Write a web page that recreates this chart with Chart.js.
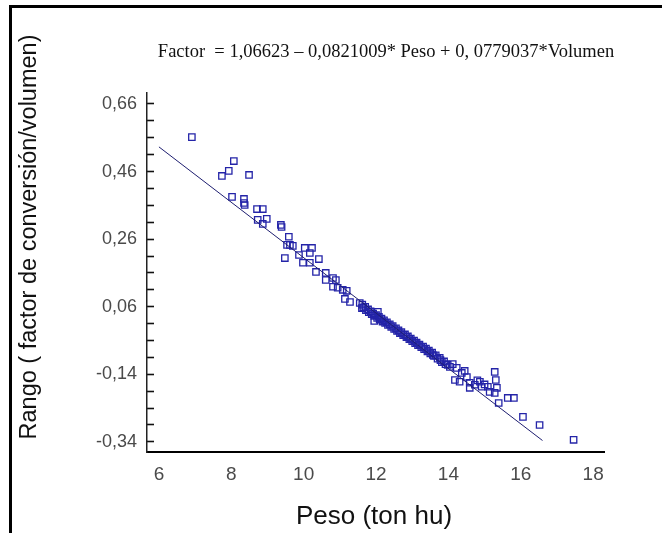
<!DOCTYPE html>
<html>
<head>
<meta charset="utf-8">
<script src="https://cdn.jsdelivr.net/npm/chart.js@4"></script>
<style>
html,body{margin:0;padding:0;background:#fff;}
#wrap{position:relative;width:662px;height:533px;}
canvas{display:block;}
</style>
</head>
<body>
<div id="wrap"><canvas id="c" width="662" height="533"></canvas></div>
<script>
// ---- data ----
const pesoValues = [
  6.91, 7.74, 7.93, 8.07, 8.49, 8.02, 8.35, 8.35, 8.37, 8.71, 8.87, 8.73, 8.98, 8.87, 9.37, 9.39,
  9.59, 9.54, 9.62, 9.70, 9.48, 9.87, 10.03, 10.23, 10.17, 9.98, 10.17, 10.42, 10.34, 10.61, 10.61,
  10.81, 10.89, 10.81, 10.94, 11.08, 11.19, 11.14, 11.28, 11.55, 11.61,
  11.62, 11.65, 11.70, 11.72, 11.78, 11.80, 11.85, 11.88, 11.92, 11.95, 12.00, 12.03, 12.08, 12.10,
  12.15, 12.18, 12.22, 12.25, 12.30, 12.33, 12.38, 12.42, 12.46, 12.50, 12.55, 12.58, 12.62, 12.66,
  12.70, 12.75, 12.80, 12.84, 12.88, 12.92, 12.96, 13.00, 13.05, 13.08, 13.12, 13.16, 13.20, 13.25,
  13.30, 13.33, 13.38, 13.42, 13.46, 13.50, 13.55, 13.60, 13.65, 13.70, 13.78, 13.82, 13.88, 13.92,
  13.98, 12.05, 11.95,
  13.57, 13.76, 14.04, 14.12, 14.23, 14.18, 14.31, 14.37, 14.45, 14.51, 14.59, 14.59, 14.73, 14.80,
  14.87, 14.92, 15.00, 15.09, 15.14, 15.28, 15.31, 15.34, 15.28, 15.39, 15.64, 15.81, 16.06, 16.52, 17.46
];
const rangoValues = [
  0.562, 0.447, 0.462, 0.491, 0.450, 0.385, 0.379, 0.367, 0.361, 0.349, 0.349, 0.317, 0.320, 0.305, 0.302, 0.296,
  0.267, 0.243, 0.243, 0.240, 0.204, 0.213, 0.234, 0.234, 0.219, 0.190, 0.190, 0.201, 0.163, 0.160, 0.139,
  0.145, 0.139, 0.119, 0.116, 0.110, 0.107, 0.083, 0.074, 0.071, 0.056,
  0.066, 0.058, 0.060, 0.050, 0.052, 0.044, 0.046, 0.038, 0.040, 0.033, 0.035, 0.027, 0.030, 0.022,
  0.025, 0.016, 0.020, 0.012, 0.014, 0.006, 0.008, 0.000, 0.003, -0.006, -0.004, -0.012, -0.010, -0.018,
  -0.015, -0.024, -0.022, -0.030, -0.028, -0.036, -0.034, -0.042, -0.040, -0.048, -0.046, -0.054, -0.052, -0.060,
  -0.058, -0.066, -0.064, -0.072, -0.070, -0.078, -0.076, -0.086, -0.084, -0.094, -0.098, -0.104, -0.102, -0.110,
  -0.112, 0.045, 0.018,
  -0.083, -0.091, -0.118, -0.110, -0.121, -0.157, -0.162, -0.136, -0.130, -0.148, -0.165, -0.180, -0.171, -0.158,
  -0.162, -0.177, -0.170, -0.177, -0.192, -0.133, -0.157, -0.180, -0.195, -0.225, -0.210, -0.210, -0.266, -0.290, -0.334
];
const fitLineX = [6.0, 16.6];
const fitLineY = [0.533, -0.336];
const yTickValues = [0.66, 0.46, 0.26, 0.06, -0.14, -0.34];
const yTickLabels = ['0,66', '0,46', '0,26', '0,06', '-0,14', '-0,34'];
const yMinorTickValues = [0.66, 0.61, 0.56, 0.51, 0.46, 0.41, 0.36, 0.31, 0.26, 0.21, 0.16, 0.11, 0.06,
  0.01, -0.04, -0.09, -0.14, -0.19, -0.24, -0.29, -0.34];
const xTickValues = [6, 8, 10, 12, 14, 16, 18];
const xTickLabels = ['6', '8', '10', '12', '14', '16', '18'];
const formulaText = 'Factor  = 1,06623 \u2013 0,0821009* Peso + 0, 0779037*Volumen';
const xTitleText = 'Peso (ton hu)';
const yTitleText = 'Rango ( factor de conversi\u00f3n/volumen)';

// ---- build ----
const scatterData = pesoValues.map((x, i) => ({ x: x, y: rangoValues[i] }));
const lineData = fitLineX.map((x, i) => ({ x: x, y: fitLineY[i] }));

const decorPlugin = {
  id: 'decor',
  beforeDraw(chart) {
    const ctx = chart.ctx;
    ctx.save();
    ctx.fillStyle = '#fff';
    ctx.fillRect(0, 0, chart.width, chart.height);
    ctx.restore();
  },
  afterDraw(chart) {
    const ctx = chart.ctx;
    ctx.save();
    // frame (left + top)
    ctx.fillStyle = '#000';
    ctx.fillRect(9, 5, 3, chart.height - 5);
    ctx.fillRect(9, 5, chart.width - 9, 3);
    // formula
    ctx.fillStyle = '#111';
    ctx.font = '18.5px "Liberation Serif", "Times New Roman", serif';
    ctx.textAlign = 'center';
    ctx.textBaseline = 'middle';
    ctx.fillText(formulaText, 386, 52);
    // x title
    ctx.font = '26px "Liberation Sans", Arial, sans-serif';
    ctx.fillText(xTitleText, 374, 517);
    // y title
    ctx.translate(30, 237);
    ctx.rotate(-Math.PI / 2);
    ctx.font = '23.5px "Liberation Sans", Arial, sans-serif';
    ctx.fillText(yTitleText, 0, 0);
    ctx.restore();
  }
};

new Chart(document.getElementById('c'), {
  type: 'scatter',
  data: {
    datasets: [
      {
        type: 'line',
        data: lineData,
        borderColor: '#1e1e70',
        borderWidth: 1,
        pointRadius: 0,
        fill: false,
        order: 1
      },
      {
        type: 'scatter',
        data: scatterData,
        pointStyle: 'rect',
        pointRadius: 4.5,
        borderWidth: 1.3,
        borderColor: '#2424a8',
        backgroundColor: 'rgba(0,0,0,0)',
        order: 2
      }
    ]
  },
  options: {
    responsive: false,
    animation: false,
    events: [],
    layout: { padding: { left: 0, right: 58, top: 93, bottom: 0 } },
    plugins: { legend: { display: false }, tooltip: { enabled: false }, title: { display: false } },
    scales: {
      x: {
        type: 'linear',
        min: 5.67,
        max: 18.3,
        afterBuildTicks(scale) { scale.ticks = xTickValues.map(v => ({ value: v })); },
        afterFit(scale) { scale.height = 81; },
        grid: { display: false, drawTicks: false },
        border: { display: true, color: '#000', width: 2 },
        ticks: {
          padding: 11,
          color: '#4a4a4a',
          font: { family: '"Liberation Sans", Arial, sans-serif', size: 19 },
          callback(value) { const i = xTickValues.indexOf(value); return i >= 0 ? xTickLabels[i] : ''; },
          maxRotation: 0,
          autoSkip: false
        }
      },
      y: {
        type: 'linear',
        min: -0.37,
        max: 0.6925,
        afterBuildTicks(scale) { scale.ticks = yMinorTickValues.map(v => ({ value: v })); },
        afterFit(scale) { scale.width = 147; },
        grid: {
          display: true,
          drawOnChartArea: false,
          drawTicks: true,
          tickLength: -7,
          tickColor: '#111',
          tickWidth: 1.6
        },
        border: { display: true, color: '#222', width: 1.5 },
        ticks: {
          padding: 17,
          color: '#4a4a4a',
          font: { family: '"Liberation Sans", Arial, sans-serif', size: 18 },
          callback(value) { const i = yTickValues.findIndex(v => Math.abs(v - value) < 1e-6); return i >= 0 ? yTickLabels[i] : ''; },
          autoSkip: false
        }
      }
    }
  },
  plugins: [decorPlugin]
});
</script>
</body>
</html>
